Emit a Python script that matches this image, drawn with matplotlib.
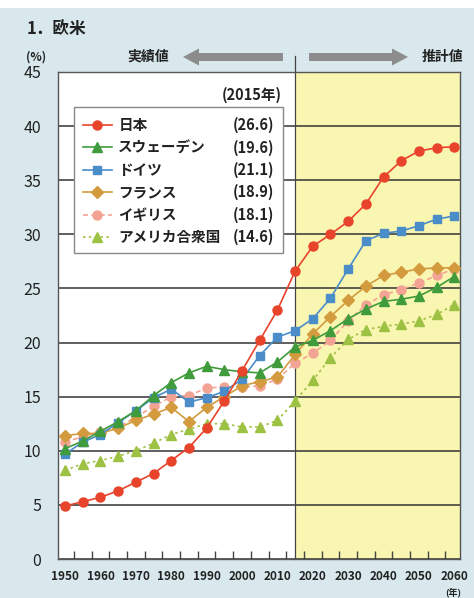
import numpy as np
import matplotlib.pyplot as plt
from matplotlib.patches import Rectangle, FancyArrow
from matplotlib.lines import Line2D

plt.rcParams["font.family"] = ["Noto Sans CJK JP", "DejaVu Sans"]

# 高齢化率 (%) 1950-2060
years = list(range(1950, 2061, 5))
japan = [4.9, 5.3, 5.7, 6.3, 7.1, 7.9, 9.1, 10.3, 12.1, 14.6, 17.4, 20.2, 23.0,
         26.6, 28.9, 30.0, 31.2, 32.8, 35.3, 36.8, 37.7, 38.0, 38.1]
sweden = [10.2, 10.9, 11.8, 12.7, 13.7, 15.1, 16.3, 17.2, 17.8, 17.5, 17.3, 17.2, 18.2,
          19.6, 20.2, 21.1, 22.2, 23.1, 23.8, 24.0, 24.3, 25.1, 26.1]
germany = [9.7, 10.8, 11.5, 12.6, 13.7, 14.9, 15.7, 14.5, 14.9, 15.5, 16.6, 18.8, 20.5,
           21.1, 22.2, 24.1, 26.8, 29.4, 30.1, 30.3, 30.8, 31.4, 31.7]
france = [11.4, 11.6, 11.6, 12.1, 12.8, 13.4, 14.0, 12.7, 14.0, 15.0, 16.0, 16.4, 16.8,
          18.9, 20.8, 22.4, 23.9, 25.2, 26.2, 26.5, 26.8, 26.9, 26.9]
uk = [10.8, 11.3, 11.7, 12.2, 13.1, 14.1, 15.0, 15.1, 15.8, 15.9, 15.9, 16.0, 16.6,
      18.1, 19.0, 20.2, 22.0, 23.5, 24.4, 24.9, 25.5, 26.2, 26.8]
usa = [8.2, 8.8, 9.1, 9.5, 10.0, 10.7, 11.5, 12.0, 12.5, 12.5, 12.2, 12.2, 12.8,
       14.6, 16.5, 18.6, 20.3, 21.2, 21.5, 21.7, 22.0, 22.6, 23.5]

names = ["日本", "スウェーデン", "ドイツ", "フランス", "イギリス", "アメリカ合衆国"]
values_2015 = ["(26.6)", "(19.6)", "(21.1)", "(18.9)", "(18.1)", "(14.6)"]
series = [japan, sweden, germany, france, uk, usa]
colors = ["#e8432b", "#3f9b3c", "#4b8dc9", "#d39b3e", "#f3a394", "#9dc143"]
markers = ["o", "^", "s", "D", "o", "^"]
msizes = [6.5, 7, 6, 6, 6.5, 7]
styles = ["-", "-", "-", "-", (0, (3, 2)), (0, (1.5, 2))]

split_year = 2015
bg = "#d8e8ec"
txt = "#222222"

fig = plt.figure(figsize=(4.74, 5.98), dpi=100, facecolor=bg)
ax = fig.add_axes([58 / 474, 1 - 559 / 598, 402 / 474, 487 / 598])
ax.set_facecolor("white")

ax.set_xlim(1948.0, 2061.6)
ax.set_ylim(0, 45)

# projection area
ax.axvspan(split_year, 2061.6, color="#f9f6b2", zorder=0, lw=0)
ax.axvline(split_year, ymin=0, ymax=1.032, color="#444444", lw=0.9, zorder=1, clip_on=False)

ax.set_yticks(np.arange(0, 46, 5))
ax.yaxis.grid(True, color="#333333", lw=1.1, zorder=1)
ax.set_axisbelow(True)
ax.tick_params(axis="y", length=0, pad=12, labelsize=11.5, labelcolor=txt)

ax.set_xticks(np.arange(1950, 2061, 10))
ax.set_xticks(np.arange(1952.5, 2060, 5), minor=True)
ax.tick_params(axis="x", which="major", length=0, pad=8, labelsize=8.5, labelcolor=txt)
ax.tick_params(axis="x", which="minor", direction="in", length=6, width=1, color="#444444")
for lab in ax.get_xticklabels():
    lab.set_fontweight("bold")

for sp in ax.spines.values():
    sp.set_color("#555555")
    sp.set_linewidth(1.0)

# draw from back to front
for i in reversed(range(len(series))):
    ax.plot(years, series[i], color=colors[i], lw=1.2, ls=styles[i], marker=markers[i],
            ms=msizes[i], mec=colors[i], mfc=colors[i], zorder=3 + (len(series) - i) * 0.1)

# legend box
ax.add_patch(Rectangle((0.040, 0.628), 0.520, 0.300, transform=ax.transAxes,
                       facecolor="white", edgecolor="#888888", lw=1.0, zorder=5))
ax.text(0.557, 0.953, "(2015年)", transform=ax.transAxes, ha="right", va="center",
        fontsize=10.5, fontweight="bold", color=txt, zorder=6)
row_y = [0.891, 0.845, 0.799, 0.753, 0.707, 0.661]
for i, name in enumerate(names):
    y = row_y[i]
    ax.add_line(Line2D([0.062, 0.134], [y, y], transform=ax.transAxes, color=colors[i],
                       lw=1.2, ls=styles[i], zorder=6))
    ax.add_line(Line2D([0.098], [y], transform=ax.transAxes, color=colors[i],
                       marker=markers[i], ms=msizes[i], zorder=6))
    ax.text(0.150, y, name, transform=ax.transAxes, ha="left", va="center",
            fontsize=10.5, fontweight="bold", color=txt, zorder=6)
    ax.text(0.538, y, values_2015[i], transform=ax.transAxes, ha="right", va="center",
            fontsize=10.5, fontweight="bold", color=txt, zorder=6)

# header texts and arrows
fig.patches.append(Rectangle((0, 1 - 8 / 598), 1, 8 / 598, transform=fig.transFigure,
                             facecolor="white", edgecolor="none"))
fig.text(27 / 474, 1 - 29 / 598, "1．欧米", ha="left", va="center", fontsize=12,
         fontweight="bold", color=txt)
fig.text(26 / 474, 1 - 57 / 598, "(%)", ha="left", va="center", fontsize=8.5,
         fontweight="bold", color=txt)
fig.text(148 / 474, 1 - 57 / 598, "実績値", ha="center", va="center", fontsize=10,
         fontweight="bold", color=txt)
fig.text(442 / 474, 1 - 57 / 598, "推計値", ha="center", va="center", fontsize=10,
         fontweight="bold", color=txt)
fig.text(453 / 474, 1 - 592 / 598, "(年)", ha="center", va="center", fontsize=6.5,
         fontweight="bold", color=txt)

arrow_y = (598 - 57) / 100
fig.patches.append(FancyArrow(2.83, arrow_y, -1.00, 0, width=0.08, head_width=0.17,
                              head_length=0.16, length_includes_head=True,
                              transform=fig.dpi_scale_trans, color="#8c8c8c", lw=0))
fig.patches.append(FancyArrow(3.09, arrow_y, 0.99, 0, width=0.08, head_width=0.17,
                              head_length=0.16, length_includes_head=True,
                              transform=fig.dpi_scale_trans, color="#8c8c8c", lw=0))

fig.savefig("out.png", dpi=100, facecolor=bg)
